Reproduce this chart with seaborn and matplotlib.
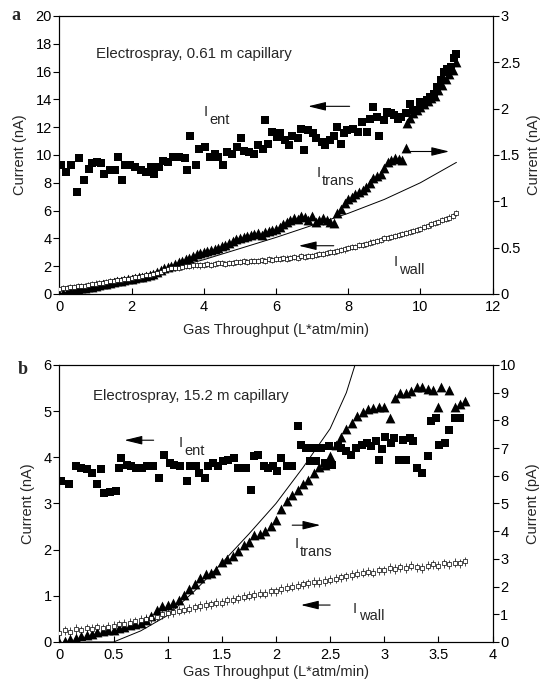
import matplotlib
matplotlib.use("Agg")
import matplotlib.pyplot as plt
import seaborn as sns
import numpy as np
import pandas as pd

sns.set_theme(style="ticks")
plt.rcParams['font.family'] = ['Liberation Sans', 'DejaVu Sans']

# ---------------- Panel a data ----------------
a_ent_x = [0.05, 0.19, 0.33, 0.48, 0.55, 0.67, 0.81, 0.9, 1.05, 1.15, 1.24, 1.39, 1.53, 1.63, 1.72, 1.82,
           1.96, 2.1, 2.25, 2.39, 2.53, 2.63, 2.77, 2.87, 3.01, 3.15, 3.3, 3.49, 3.54, 3.63, 3.78, 3.87,
           4.02, 4.16, 4.3, 4.4, 4.54, 4.64, 4.78, 4.92, 5.02, 5.11, 5.26, 5.4, 5.5, 5.64, 5.69, 5.78,
           5.88, 6.02, 6.12, 6.26, 6.36, 6.45, 6.6, 6.69, 6.79, 6.88, 7.03, 7.12, 7.27, 7.36, 7.5, 7.6,
           7.7, 7.79, 7.89, 7.98, 8.13, 8.27, 8.37, 8.51, 8.6, 8.7, 8.8, 8.85, 8.99, 9.08, 9.18, 9.27,
           9.37, 9.46, 9.6, 9.7, 9.8, 9.89, 9.99, 10.09, 10.18, 10.28, 10.37, 10.47, 10.56, 10.66,
           10.75, 10.85, 10.94, 11.0]
a_ent_y = [9.25, 8.8, 9.25, 7.3, 9.8, 8.2, 9.0, 9.4, 9.5, 9.4, 8.65, 8.9, 8.9, 9.85, 8.2, 9.25,
           9.25, 9.1, 8.9, 8.8, 9.1, 8.65, 9.1, 9.6, 9.5, 9.85, 9.85, 9.75, 8.9, 11.4, 9.25, 10.45,
           10.6, 9.85, 10.1, 9.85, 9.25, 10.2, 10.1, 10.6, 11.2, 10.3, 10.2, 10.1, 10.7, 10.45, 12.5, 10.8,
           11.65, 11.3, 11.55, 11.05, 10.7, 11.4, 11.2, 11.9, 10.35, 11.8, 11.55, 11.2, 10.95, 10.7, 11.05, 11.4,
           12.0, 10.8, 11.55, 11.8, 11.9, 11.65, 12.4, 11.65, 12.6, 13.45, 12.75, 11.4, 12.5, 13.1, 13.0, 12.85,
           12.6, 12.75, 13.0, 13.7, 13.2, 13.2, 13.8, 13.7, 13.95, 14.2, 14.4, 14.9, 15.4, 16.0,
           16.2, 16.35, 16.95, 17.25]

a_trans_x = [0.0, 0.1, 0.2, 0.3, 0.4, 0.5, 0.6, 0.7, 0.8, 0.9, 1.0, 1.1, 1.2, 1.3, 1.4, 1.5, 1.6, 1.7, 1.8,
             1.9, 2.0, 2.1, 2.2, 2.3, 2.4, 2.5, 2.6, 2.7, 2.8, 2.9, 3.0, 3.1, 3.2, 3.3, 3.4, 3.5, 3.6, 3.7,
             3.8, 3.9, 4.0, 4.1, 4.2, 4.3, 4.4, 4.5, 4.6, 4.7, 4.8, 4.9, 5.0, 5.1, 5.2, 5.3, 5.4, 5.5, 5.6,
             5.7, 5.8, 5.9, 6.0, 6.1, 6.2, 6.3, 6.4, 6.5, 6.6, 6.7, 6.8, 6.9, 7.0, 7.1, 7.2, 7.3, 7.4, 7.5,
             7.6, 7.7, 7.8, 7.9, 8.0, 8.1, 8.2, 8.3, 8.4, 8.5, 8.6, 8.7, 8.8, 8.9, 9.0, 9.1, 9.2, 9.3, 9.4,
             9.5, 9.6, 9.62, 9.7, 9.8, 9.9, 10.0, 10.1, 10.2, 10.3, 10.4, 10.5, 10.6, 10.7, 10.8, 10.9, 11.0]
a_trans_y = [0.0, 0.01, 0.02, 0.03, 0.04, 0.05, 0.06, 0.065, 0.075, 0.08, 0.09, 0.1, 0.105, 0.11, 0.12,
             0.125, 0.135, 0.14, 0.155, 0.16, 0.165, 0.17, 0.18, 0.185, 0.195, 0.21, 0.22, 0.24, 0.26,
             0.275, 0.29, 0.3, 0.32, 0.34, 0.36, 0.375, 0.39, 0.41, 0.43, 0.44, 0.455, 0.46, 0.47, 0.48,
             0.5, 0.52, 0.53, 0.55, 0.57, 0.59, 0.6, 0.61, 0.63, 0.64, 0.65, 0.66, 0.64, 0.67, 0.68, 0.69,
             0.7, 0.72, 0.76, 0.78, 0.8, 0.82, 0.81, 0.84, 0.83, 0.8, 0.84, 0.78, 0.8, 0.82, 0.8, 0.78,
             0.77, 0.87, 0.92, 0.98, 1.02, 1.05, 1.08, 1.1, 1.12, 1.15, 1.2, 1.25, 1.27, 1.3, 1.36, 1.42,
             1.45, 1.47, 1.46, 1.45, 1.58, 1.84, 1.9, 1.95, 1.98, 2.02, 2.05, 2.08, 2.12, 2.14, 2.2, 2.25,
             2.32, 2.37, 2.42, 2.5]

a_line_x = [0, 1, 2, 3, 4, 5, 6, 7, 8, 9, 10, 11]
a_line_y = [0.0, 0.08, 0.17, 0.27, 0.37, 0.49, 0.61, 0.74, 0.87, 1.02, 1.2, 1.42]

a_wall_x = [0.0, 0.1, 0.2, 0.3, 0.4, 0.5, 0.6, 0.7, 0.8, 0.9, 1.0, 1.1, 1.2, 1.3, 1.4, 1.5, 1.6, 1.7, 1.8,
            1.9, 2.0, 2.1, 2.2, 2.3, 2.4, 2.5, 2.6, 2.7, 2.8, 2.9, 3.0, 3.1, 3.2, 3.3, 3.4, 3.5, 3.6, 3.7,
            3.8, 3.9, 4.0, 4.1, 4.2, 4.3, 4.4, 4.5, 4.6, 4.7, 4.8, 4.9, 5.0, 5.1, 5.2, 5.3, 5.4, 5.5, 5.6,
            5.7, 5.8, 5.9, 6.0, 6.1, 6.2, 6.3, 6.4, 6.5, 6.6, 6.7, 6.8, 6.9, 7.0, 7.1, 7.2, 7.3, 7.4, 7.5,
            7.6, 7.7, 7.8, 7.9, 8.0, 8.1, 8.2, 8.3, 8.4, 8.5, 8.6, 8.7, 8.8, 8.9, 9.0, 9.1, 9.2, 9.3, 9.4,
            9.5, 9.6, 9.7, 9.8, 9.9, 10.0, 10.1, 10.2, 10.3, 10.4, 10.5, 10.6, 10.7, 10.8, 10.9, 11.0]
a_wall_y = [0.35, 0.4, 0.45, 0.5, 0.5, 0.55, 0.6, 0.6, 0.65, 0.7, 0.75,
            0.8, 0.8, 0.85, 0.9, 0.95, 1.0, 1.0, 1.05, 1.1, 1.15,
            1.2, 1.25, 1.3, 1.35, 1.4, 1.45, 1.5, 1.6, 1.7, 1.8,
            1.85, 1.9, 1.9, 1.95, 2.0, 2.0, 2.05, 2.1, 2.05, 2.1,
            2.15, 2.1, 2.15, 2.2, 2.2, 2.15, 2.25, 2.2, 2.3, 2.3,
            2.35, 2.3, 2.4, 2.35, 2.4, 2.45, 2.4, 2.5, 2.45, 2.55,
            2.5, 2.6, 2.55, 2.6, 2.65, 2.6, 2.7, 2.65, 2.7, 2.75,
            2.8, 2.85, 2.9, 2.95, 3.0, 3.05, 3.1, 3.15, 3.2, 3.3,
            3.35, 3.4, 3.5, 3.55, 3.6, 3.7, 3.75, 3.8, 3.9, 4.0,
            4.05, 4.1, 4.2, 4.25, 4.3, 4.4, 4.45, 4.5, 4.6, 4.7,
            4.8, 4.9, 5.0, 5.1, 5.2, 5.3, 5.4, 5.5, 5.6, 5.8]
a_wall_err = 0.22

a_xticks = [0, 2, 4, 6, 8, 10, 12]
a_lticks = [0, 2, 4, 6, 8, 10, 12, 14, 16, 18, 20]
a_rticks = [0, 0.5, 1, 1.5, 2, 2.5, 3]
a_rticklabels = ["0", "0.5", "1", "1.5", "2", "2.5", "3"]

# ---------------- Panel b data ----------------
b_ent_x = [0.01, 0.09, 0.15, 0.2, 0.25, 0.3, 0.35, 0.38, 0.41, 0.47, 0.52, 0.55, 0.57, 0.62, 0.66, 0.71,
           0.76, 0.81, 0.86, 0.92, 0.97, 1.02, 1.06, 1.11, 1.18, 1.21, 1.26, 1.29, 1.34, 1.37, 1.42, 1.46,
           1.51, 1.56, 1.61, 1.65, 1.72, 1.77, 1.8, 1.83, 1.89, 1.93, 1.97, 2.01, 2.05, 2.1, 2.15, 2.2,
           2.23, 2.28, 2.31, 2.34, 2.37, 2.42, 2.45, 2.49, 2.52, 2.57, 2.6, 2.65, 2.69, 2.74, 2.79, 2.84,
           2.88, 2.92, 2.95, 2.98, 3.01, 3.06, 3.09, 3.14, 3.17, 3.2, 3.24, 3.27, 3.3, 3.35, 3.4, 3.43,
           3.48, 3.51, 3.56, 3.6, 3.65, 3.7]
b_ent_y = [3.48, 3.43, 3.81, 3.77, 3.74, 3.65, 3.43, 3.74, 3.22, 3.25, 3.27, 3.77, 3.99, 3.84, 3.81, 3.77,
           3.77, 3.81, 3.81, 3.56, 4.06, 3.88, 3.84, 3.81, 3.48, 3.81, 3.81, 3.66, 3.56, 3.81, 3.88, 3.81,
           3.92, 3.95, 3.99, 3.77, 3.77, 3.30, 4.02, 4.06, 3.81, 3.77, 3.81, 3.70, 3.99, 3.81, 3.81, 4.67,
           4.27, 4.20, 3.92, 4.20, 3.92, 4.20, 3.88, 4.24, 3.84, 4.24, 4.20, 4.13, 4.06, 4.20, 4.27, 4.31,
           4.24, 4.35, 3.95, 4.17, 4.45, 4.31, 4.42, 3.95, 4.38, 3.95, 4.42, 4.35, 3.77, 3.66, 4.02, 4.78,
           4.85, 4.27, 4.31, 4.60, 4.85, 4.85]

b_trans_x = [0.0, 0.05, 0.1, 0.15, 0.2, 0.25, 0.3, 0.35, 0.4, 0.45, 0.5, 0.55, 0.6, 0.65, 0.7, 0.75,
             0.8, 0.85, 0.9, 0.95, 1.0, 1.05, 1.1, 1.15, 1.2, 1.25, 1.3, 1.35, 1.4, 1.45, 1.5, 1.55,
             1.6, 1.65, 1.7, 1.75, 1.8, 1.85, 1.9, 1.95, 2.0, 2.05, 2.1, 2.15, 2.2, 2.25, 2.3, 2.35,
             2.4, 2.45, 2.5, 2.55, 2.6, 2.65, 2.7, 2.75, 2.8, 2.85, 2.9, 2.95, 3.0, 3.05, 3.1, 3.15,
             3.2, 3.25, 3.3, 3.35, 3.4, 3.45, 3.5, 3.52, 3.6, 3.65, 3.7, 3.75]
b_trans_y = [0.0, 0.05, 0.1, 0.15, 0.2, 0.25, 0.3, 0.35, 0.4, 0.42, 0.45, 0.5, 0.55, 0.6, 0.65, 0.7,
             0.8, 0.95, 1.15, 1.3, 1.35, 1.4, 1.5, 1.7, 1.9, 2.1, 2.3, 2.45, 2.5, 2.6, 2.9, 3.0,
             3.1, 3.3, 3.5, 3.6, 3.85, 3.9, 4.0, 4.2, 4.4, 4.8, 5.1, 5.3, 5.5, 5.7, 5.85, 6.1,
             6.3, 6.4, 6.7, 7.1, 7.4, 7.7, 7.9, 8.15, 8.3, 8.4, 8.45, 8.5, 8.5, 8.1, 8.8, 9.0,
             9.0, 9.05, 9.2, 9.2, 9.15, 9.1, 8.5, 9.2, 9.1, 8.5, 8.6, 8.7]

b_line_x = [0.25, 0.5, 0.75, 1.0, 1.25, 1.5, 1.75, 2.0, 2.25, 2.5, 2.65, 2.73]
b_line_y = [0.0, 0.0, 0.4, 0.96, 1.85, 2.85, 3.9, 5.0, 6.3, 7.7, 9.0, 10.0]

b_wall_x = [0.0, 0.05, 0.1, 0.15, 0.2, 0.25, 0.3, 0.35, 0.4, 0.45, 0.5, 0.55, 0.6, 0.65, 0.7, 0.75,
            0.8, 0.85, 0.9, 0.95, 1.0, 1.05, 1.1, 1.15, 1.2, 1.25, 1.3, 1.35, 1.4, 1.45, 1.5, 1.55,
            1.6, 1.65, 1.7, 1.75, 1.8, 1.85, 1.9, 1.95, 2.0, 2.05, 2.1, 2.15, 2.2, 2.25, 2.3, 2.35,
            2.4, 2.45, 2.5, 2.55, 2.6, 2.65, 2.7, 2.75, 2.8, 2.85, 2.9, 2.95, 3.0, 3.05, 3.1, 3.15,
            3.2, 3.25, 3.3, 3.35, 3.4, 3.45, 3.5, 3.55, 3.6, 3.65, 3.7, 3.75]
b_wall_y = [0.2, 0.25, 0.22, 0.28, 0.25, 0.3, 0.28, 0.32, 0.3, 0.33,
            0.35, 0.38, 0.4, 0.42, 0.45, 0.48, 0.5, 0.52, 0.55, 0.6,
            0.62, 0.65, 0.68, 0.7, 0.72, 0.75, 0.78, 0.8, 0.82, 0.85,
            0.85, 0.9, 0.92, 0.95, 0.98, 1.0, 1.02, 1.05, 1.05, 1.1,
            1.1, 1.15, 1.18, 1.2, 1.22, 1.25, 1.27, 1.3, 1.3, 1.32,
            1.35, 1.37, 1.4, 1.42, 1.45, 1.48, 1.5, 1.52, 1.5, 1.55,
            1.55, 1.6, 1.58, 1.62, 1.6, 1.65, 1.62, 1.6, 1.65, 1.68,
            1.65, 1.7, 1.68, 1.72, 1.7, 1.75]
b_wall_err = 0.1

b_xticks = [0, 0.5, 1, 1.5, 2, 2.5, 3, 3.5, 4]
b_xticklabels = ["0", "0.5", "1", "1.5", "2", "2.5", "3", "3.5", "4"]
b_lticks = [0, 1, 2, 3, 4, 5, 6]
b_rticks = [0, 1, 2, 3, 4, 5, 6, 7, 8, 9, 10]

FS = 10.5

fig = plt.figure(figsize=(5.42, 6.8), dpi=100)
axA = fig.add_axes([0.1097, 0.5677, 0.7990, 0.4088])
axB = fig.add_axes([0.1097, 0.0559, 0.7990, 0.4074])


def style_axes(ax, ax2):
    for a in (ax, ax2):
        for s in a.spines.values():
            s.set_linewidth(0.8)
            s.set_color('black')
    ax.tick_params(axis='y', direction='out', length=4, width=0.8, labelsize=FS, pad=1.5, colors='black')
    ax.tick_params(axis='x', direction='in', length=4, width=0.8, labelsize=FS, pad=4, colors='black')
    ax2.tick_params(axis='y', direction='out', length=4, width=0.8, labelsize=FS, pad=1.5, colors='black')
    ax.set_facecolor('white')


def draw_panel(ax, ent_x, ent_y, wall_x, wall_y, wall_err, trans_x, trans_y, line_x, line_y,
               xlim, ylim, y2lim, xticks, lticks, rticks, ylab2, xpad, r_pad):
    ax2 = ax.twinx()
    ax.set_zorder(ax2.get_zorder() + 1)
    ax.patch.set_visible(False)
    sns.scatterplot(x=ent_x, y=ent_y, ax=ax, marker='s', s=30, color='black', linewidth=0, zorder=4)
    ax.errorbar(wall_x, wall_y, yerr=wall_err, fmt='s', ms=3.3, mfc='white', mec='black', mew=0.5,
                ecolor='black', elinewidth=0.5, capsize=0, zorder=3)
    sns.scatterplot(x=trans_x, y=trans_y, ax=ax2, marker='^', s=50, color='black', linewidth=0, zorder=4)
    sns.lineplot(x=line_x, y=line_y, ax=ax2, color='black', linewidth=0.7, zorder=3)
    ax.set_xlim(*xlim)
    ax.set_ylim(*ylim)
    ax2.set_ylim(*y2lim)
    ax.set_xticks(xticks)
    ax.set_yticks(lticks)
    ax2.set_yticks(rticks)
    ax.set_xlabel("Gas Throughput (L*atm/min)", fontsize=FS, labelpad=xpad)
    ax.set_ylabel("Current (nA)", fontsize=FS, labelpad=6)
    ax2.set_ylabel(ylab2, fontsize=FS, labelpad=r_pad)
    style_axes(ax, ax2)
    return ax2


def arrow(ax, tail, head):
    ax.annotate('', xy=head, xytext=tail,
                arrowprops=dict(arrowstyle='-|>,head_length=0.9,head_width=0.22', color='black',
                                lw=0.8, shrinkA=0, shrinkB=0))


def ilabel(ax, x, y, sub):
    ax.text(x, y, "I", fontsize=10.5, ha='left', va='center')
    ax.annotate(sub, xy=(x, y), xytext=(4.2, -5.5), textcoords='offset points',
                fontsize=10.5, ha='left', va='center')


a2 = draw_panel(axA, a_ent_x, a_ent_y, a_wall_x, a_wall_y, a_wall_err, a_trans_x, a_trans_y,
                a_line_x, a_line_y, (0, 12), (0, 20), (0, 3), a_xticks, a_lticks, a_rticks, "Current (nA)",
                7, 5)
a2.set_yticklabels(a_rticklabels)
axA.text(1.0, 17.3, "Electrospray, 0.61 m capillary", fontsize=10.8, ha='left', va='center')
arrow(axA, (8.04, 13.5), (6.89, 13.5))
arrow(axA, (9.66, 10.25), (10.8, 10.25))
arrow(axA, (7.6, 3.47), (6.63, 3.47))
ilabel(axA, 3.99, 13.1, "ent")
ilabel(axA, 7.12, 8.7, "trans")
ilabel(axA, 9.25, 2.3, "wall")

b2 = draw_panel(axB, b_ent_x, b_ent_y, b_wall_x, b_wall_y, b_wall_err, b_trans_x, b_trans_y,
                b_line_x, b_line_y, (0, 4), (0, 6), (0, 10), b_xticks, b_lticks, b_rticks, "Current (pA)",
                2.5, 7)
axB.set_xticklabels(b_xticklabels)
axB.text(0.31, 5.32, "Electrospray, 15.2 m capillary", fontsize=10.8, ha='left', va='center')
arrow(axB, (0.87, 4.37), (0.6, 4.37))
arrow(axB, (2.15, 2.53), (2.41, 2.53))
arrow(axB, (2.5, 0.8), (2.23, 0.8))
ilabel(axB, 1.10, 4.3, "ent")
ilabel(axB, 2.17, 2.12, "trans")
ilabel(axB, 2.71, 0.72, "wall")

fig.text(15.5 / 542, 1 - 15.5 / 680, "a", fontsize=13, fontweight='bold', family='Liberation Serif',
         ha='center', va='center')
fig.text(22.7 / 542, 1 - 369 / 680, "b", fontsize=13, fontweight='bold', family='Liberation Serif',
         ha='center', va='center')

fig.savefig("out.png", dpi=100, facecolor='white')
